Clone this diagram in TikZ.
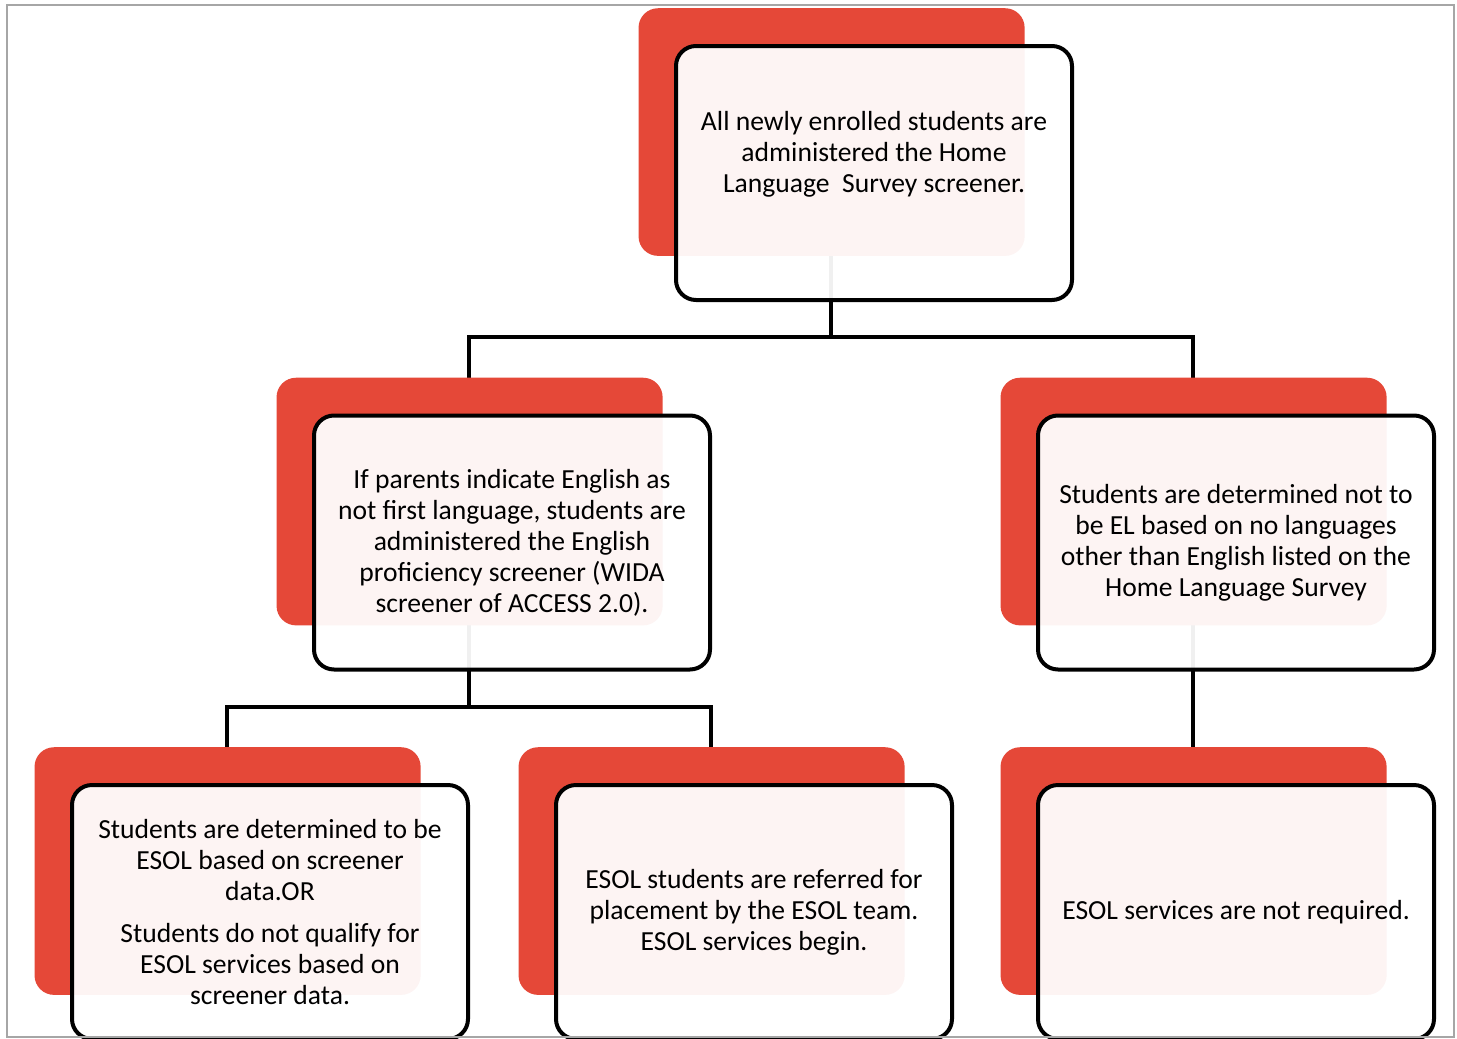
\documentclass[tikz,border=0pt]{standalone}
\usepackage{fontspec}
\setmainfont{Carlito}
\usetikzlibrary{trees,shadows,backgrounds}
\definecolor{esolred}{RGB}{229,72,56}

\begin{document}
\begin{tikzpicture}[x=0.5pt,y=0.5pt,edge from parent/.style={draw=none},
  card/.style={draw,line width=2pt,rounded corners=10pt,fill=white,fill opacity=0.94,text opacity=1,
    minimum width=198pt,minimum height=127pt,inner sep=0pt,align=center,
    font=\fontsize{13.8pt}{15.5pt}\selectfont,
    general shadow={fill=esolred,fill opacity=1,draw=none,shadow xshift=-21.75pt,shadow yshift=21pt,shadow scale=0.975}},
  link/.style={draw,line width=2pt}]
\useasboundingbox (0,0) rectangle (1457,-1039);
\clip (0,0) rectangle (1457,-1039);
\node[card] (hls) at (874,-173) {All newly enrolled students are\\administered the Home\\Language~~Survey screener.\\[5.5pt]\mbox{}} [level distance=184.75pt,sibling distance=362pt]
child { node[card] (wida) {If parents indicate English as\\not first language, students are\\administered the English\\proficiency screener (WIDA\\screener of ACCESS 2.0).} [level distance=184.75pt,sibling distance=242pt]
  child {node[card] (qualify) {Students are determined to be\\ESOL based on screener\\data.OR\\[5.5pt]Students do not qualify for\\ESOL services based on\\screener data.}}
  child {node[card] (placement) {ESOL students are referred for\\placement by the ESOL team.\\ESOL services begin.}}
}
child { node[card] (notel) {Students are determined not to\\be EL based on no languages\\other than English listed on the\\Home Language Survey} [level distance=184.75pt]
  child {node[card] (noneed) {ESOL services are not required.}}
};
% connectors run from the red cards, behind everything
\foreach \n in {hls,wida,notel,qualify,placement,noneed}
  \coordinate (\n R) at ([shift={(-43.5,42)}]\n.center);
\begin{scope}[on background layer]
\path[link] (hlsR) -- ++(0,-206) -| (widaR);
\path[link] (hlsR) -- ++(0,-206) -| (notelR);
\path[link] (widaR) -- ++(0,-206) -| (qualifyR);
\path[link] (widaR) -- ++(0,-206) -| (placementR);
\path[link] (notelR) -- (noneedR);
\end{scope}
\draw[gray!70,line width=1pt] (7,-5) rectangle (1454,-1037);
\end{tikzpicture}
\end{document}
